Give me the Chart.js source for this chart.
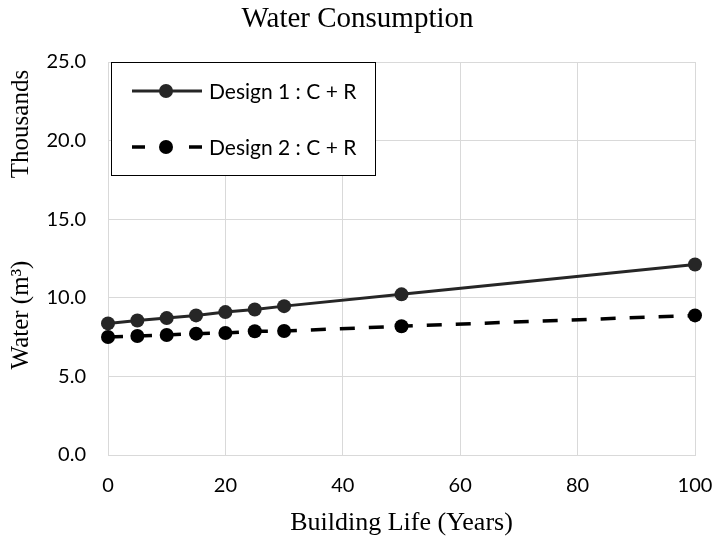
<!DOCTYPE html>
<html>
<head>
<meta charset="utf-8">
<script src="https://cdn.jsdelivr.net/npm/chart.js@4"></script>
<style>
html,body{margin:0;padding:0;background:#fff;}
#wrap{width:715px;height:543px;}
</style>
</head>
<body>
<div id="wrap"><canvas id="c" width="715" height="543"></canvas></div>
<script>
const years = [0, 5, 10, 15, 20, 25, 30, 50, 100];
const design1 = [8.37, 8.56, 8.71, 8.88, 9.09, 9.26, 9.47, 10.22, 12.12];
const design2 = [7.51, 7.57, 7.63, 7.72, 7.76, 7.87, 7.89, 8.19, 8.88];
const seriesNames = ['Design 1 : C + R', 'Design 2 : C + R'];
const xTicks = [0, 20, 40, 60, 80, 100];
const yTicks = [0, 5, 10, 15, 20, 25];
const chartTitle = 'Water Consumption';
const xTitle = 'Building Life (Years)';
const yTitle = 'Water (m³)';
const yUnit = 'Thousands';

const SERIF = '"Liberation Serif", "Times New Roman", serif';
const SANS = 'Lato, Carlito, Calibri, sans-serif';

const extras = {
  id: 'extras',
  afterDraw(chart) {
    const ctx = chart.ctx;
    // y-axis titles
    ctx.save();
    ctx.fillStyle = '#000';
    ctx.font = '25px ' + SERIF;
    ctx.textAlign = 'center';
    ctx.textBaseline = 'middle';
    ctx.translate(21, 124);
    ctx.rotate(-Math.PI / 2);
    ctx.fillText(yUnit, 0, 0);
    ctx.restore();
    ctx.save();
    ctx.fillStyle = '#000';
    ctx.font = '25px ' + SERIF;
    ctx.textAlign = 'center';
    ctx.textBaseline = 'middle';
    ctx.translate(21, 315);
    ctx.rotate(-Math.PI / 2);
    ctx.fillText(yTitle, 0, 0);
    ctx.restore();
    // legend
    const L = 111, T = 62, R = 375, B = 175;
    ctx.save();
    ctx.fillStyle = '#fff';
    ctx.fillRect(L, T, R - L, B - T);
    ctx.strokeStyle = '#000';
    ctx.lineWidth = 1;
    ctx.strokeRect(L + 0.5, T + 0.5, R - L, B - T);
    const rows = [91, 147];
    chart.data.datasets.forEach((ds, i) => {
      const y = rows[i];
      ctx.strokeStyle = ds.borderColor;
      ctx.lineWidth = ds.borderWidth;
      ctx.setLineDash([]);
      ctx.beginPath();
      if (ds.borderDash) {
        ctx.moveTo(132, y); ctx.lineTo(145, y);
        ctx.moveTo(189, y); ctx.lineTo(202, y);
      } else {
        ctx.moveTo(132, y); ctx.lineTo(202, y);
      }
      ctx.stroke();
      ctx.fillStyle = ds.pointBackgroundColor;
      ctx.beginPath();
      ctx.arc(166, y, ds.pointRadius, 0, Math.PI * 2);
      ctx.fill();
      ctx.fillStyle = '#000';
      ctx.font = '21px ' + SANS;
      ctx.textAlign = 'left';
      ctx.textBaseline = 'middle';
      ctx.fillText(ds.label, 209, y + 1);
    });
    ctx.restore();
  }
};

new Chart(document.getElementById('c'), {
  type: 'line',
  data: {
    labels: years,
    datasets: [
      {
        label: seriesNames[0],
        data: years.map((x, i) => ({x: x, y: design1[i]})),
        borderColor: '#262626',
        backgroundColor: '#262626',
        pointBackgroundColor: '#262626',
        pointBorderColor: '#262626',
        borderWidth: 3,
        pointRadius: 7,
        pointBorderWidth: 0,
        tension: 0,
        clip: false
      },
      {
        label: seriesNames[1],
        data: years.map((x, i) => ({x: x, y: design2[i]})),
        borderColor: '#000',
        backgroundColor: '#000',
        pointBackgroundColor: '#000',
        pointBorderColor: '#000',
        borderWidth: 3.5,
        borderDash: [15, 14],
        pointRadius: 7,
        pointBorderWidth: 0,
        tension: 0,
        clip: false
      }
    ]
  },
  options: {
    responsive: false,
    animation: false,
    devicePixelRatio: 1,
    layout: {padding: {left: 0, right: 0, top: 0, bottom: 0}},
    plugins: {
      legend: {display: false},
      tooltip: {enabled: false},
      title: {
        display: true,
        text: chartTitle,
        color: '#000',
        font: {family: SERIF, size: 29, weight: 'normal', lineHeight: 1.2},
        padding: {top: 2, bottom: 25.2}
      }
    },
    scales: {
      x: {
        type: 'linear',
        min: 0, max: 100,
        afterFit(s) { s.height = 88; s.paddingRight = 20; s.paddingLeft = 0; },
        afterBuildTicks(s) { s.ticks = xTicks.map(v => ({value: v})); },
        grid: {color: '#d9d9d9', lineWidth: 1, drawTicks: false},
        border: {color: '#d9d9d9', width: 1},
        ticks: {color: '#000', font: {family: SANS, size: 20}, padding: 19, maxRotation: 0},
        title: {
          display: true, text: xTitle, color: '#000',
          font: {family: SERIF, size: 26, lineHeight: 1.2},
          padding: {top: 0, bottom: 4}
        }
      },
      y: {
        type: 'linear',
        min: 0, max: 25,
        afterFit(s) { s.width = 108; },
        afterBuildTicks(s) { s.ticks = yTicks.map(v => ({value: v})); },
        grid: {color: '#d9d9d9', lineWidth: 1, drawTicks: false},
        border: {color: '#d9d9d9', width: 1},
        ticks: {
          color: '#000', font: {family: SANS, size: 20}, padding: 22,
          callback: v => v.toFixed(1)
        }
      }
    }
  },
  plugins: [extras]
});
</script>
</body>
</html>
